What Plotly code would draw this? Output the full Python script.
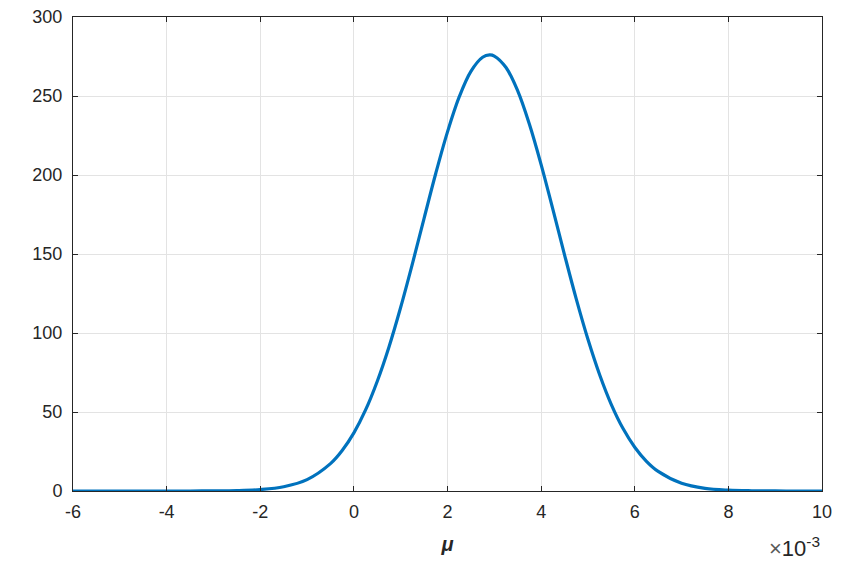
import plotly.graph_objects as go

# x in units of 1e-3
mu_x = [-6, -5.5, -5, -4.5, -4, -3.5, -3, -2.5, -2, -1.5, -1, -0.5, -0.25, 0, 0.25, 0.5, 0.75,
        1, 1.25, 1.5, 1.75, 2, 2.25, 2.5, 2.75, 2.9, 3, 3.25, 3.5, 3.75, 4, 4.25, 4.5, 4.75,
        5, 5.25, 5.5, 5.75, 6, 6.25, 6.5, 7, 7.5, 8, 8.5, 9, 9.5, 10]
density = [0, 0, 0, 0, 0.003, 0.015, 0.07, 0.25, 0.9, 2.7, 7.2, 17.3, 25.6, 36.8, 51.3, 69.5, 91.2,
           116.3, 143.8, 172.6, 201.1, 227.3, 249.4, 265.6, 274.5, 276.0, 275.3, 268.0, 253.2,
           232.1, 206.6, 178.4, 149.5, 121.6, 96.0, 73.6, 54.7, 39.5, 27.7, 18.8, 12.4, 4.9, 1.7,
           0.54, 0.15, 0.04, 0.008, 0.002]

x_ticks = [-6, -4, -2, 0, 2, 4, 6, 8, 10]
y_ticks = [0, 50, 100, 150, 200, 250, 300]

axcol = "#262626"
gridcol = "#e3e3e3"
font = "Liberation Sans, Arial, sans-serif"

fig = go.Figure()
fig.add_trace(go.Scatter(x=mu_x, y=density, mode="lines",
                         line=dict(color="#0072BD", width=3.2, shape="spline", smoothing=1.0),
                         cliponaxis=False, showlegend=False))

axis_common = dict(showline=True, linecolor=axcol, linewidth=1, mirror="allticks",
                   ticks="inside", ticklen=5, tickcolor=axcol, showgrid=True,
                   gridcolor=gridcol, gridwidth=1, zeroline=False, ticklabeloverflow="allow",
                   automargin=False,
                   tickfont=dict(family=font, size=18, color=axcol))

fig.update_xaxes(range=[-6, 10], tickvals=x_ticks, ticktext=[str(v) for v in x_ticks],
                 ticklabelstandoff=4,
                 title=dict(text="<b><i>μ</i></b>", font=dict(family=font, size=20, color=axcol),
                            standoff=16),
                 **axis_common)
fig.update_yaxes(range=[0, 300], tickvals=y_ticks, ticklabelstandoff=6, **axis_common)

fig.add_annotation(xref="paper", yref="paper", x=1.0, y=-0.085, xanchor="right", yanchor="top",
                   text="<span style='color:#595959'>×</span>10<sup>-3</sup>", showarrow=False,
                   font=dict(family=font, size=22, color=axcol))

# page body has an 8px margin; size the figure so the plot area lands where the reference has it
fig.update_layout(width=842, height=557, margin=dict(l=65, r=28, t=9, b=74, autoexpand=False),
                  plot_bgcolor="white", paper_bgcolor="white")

fig.write_html("out.html")
